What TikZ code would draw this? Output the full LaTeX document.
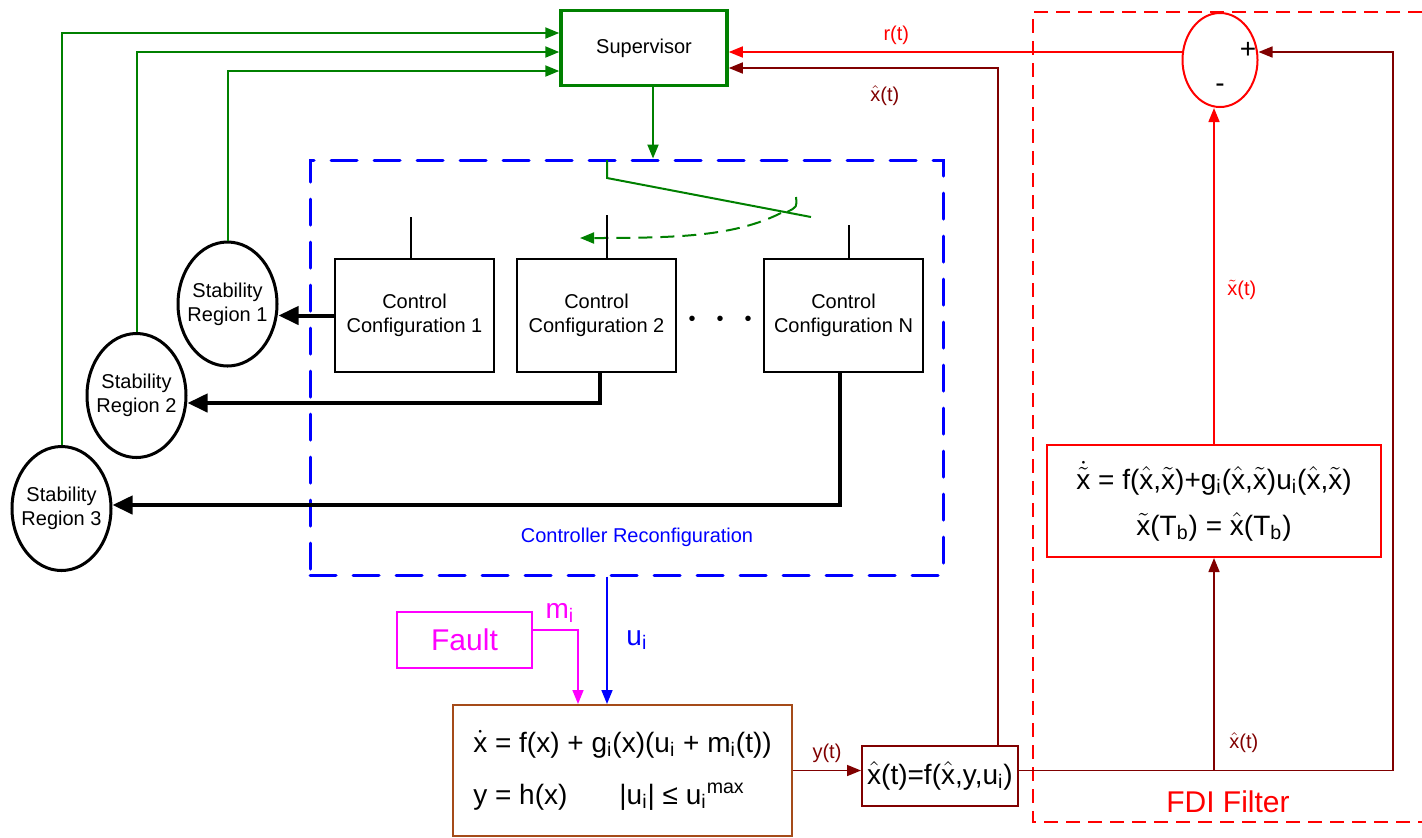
\documentclass[tikz,border=0pt]{standalone}
\usepackage{fontspec}
\setmainfont{Liberation Sans}
\usepackage{xcolor}
\usepackage{tikz}
\usetikzlibrary{arrows.meta,shapes.geometric}
\definecolor{supgreen}{RGB}{0,128,0}
\definecolor{estred}{RGB}{128,0,0}
\definecolor{plantbrown}{RGB}{165,75,25}
\definecolor{faultmag}{RGB}{255,0,255}
\newcommand{\xhat}{\ensuremath{\hat{\mbox{x}}}}
\newcommand{\xtil}{\ensuremath{\tilde{\mbox{x}}}}
\newcommand{\xtildot}{\ensuremath{\dot{\tilde{\mbox{x}}}}}
\newcommand{\xdot}{\ensuremath{\dot{\mbox{x}}}}
\newcommand{\ix}{\textsubscript{i}}

\begin{document}
\begin{tikzpicture}[x=0.5pt, y=-0.5pt, font=\fontsize{10}{12}\selectfont, >={Triangle[length=7pt,width=5.5pt]},
  blk/.style={draw, line width=1pt, minimum width=79.5pt, minimum height=56.5pt, align=center, inner sep=1pt},
  reg/.style={draw, ellipse, line width=1.5pt, minimum width=49.5pt, minimum height=62pt, inner xsep=-3pt, inner ysep=0pt, align=center},
  grn/.style={supgreen, line width=1pt},
  thin/.style={line width=0.8pt},
  thk/.style={line width=2pt, >={Triangle[length=10pt,width=9pt]}},
  eqfont/.style={font=\fontsize{14}{17}\selectfont}]
  \useasboundingbox (0,0) rectangle (1422,837);
  \node[draw=supgreen, line width=1.75pt, minimum width=83pt, minimum height=37.5pt] (sup) at (644,48) {Supervisor};
  \node[blk] (cc1) at (414.5,315.5) {Control\\Configuration 1};
  \node[blk] (cc2) at (596.5,315.5) {Control\\Configuration 2};
  \node[blk] (ccN) at (843.5,315.5) {Control\\Configuration N};
  \node (dots) at (720,321) {•\hspace{10.5pt}•\hspace{10.5pt}•};
  \node[reg] (sr1) at (227.5,304) {Stability\\Region 1};
  \node[reg] (sr2) at (136.5,395.5) {Stability\\Region 2};
  \node[reg] (sr3) at (61.5,508.5) {Stability\\Region 3};
  \node[draw=blue, line width=1.5pt, dash pattern=on 13pt off 8.5pt, line cap=round, minimum width=316.5pt, minimum height=207.5pt] (rc) at (626.5,367.5) {};
  \node[blue] (rclab) at (637,537) {Controller Reconfiguration};
  \node[draw=faultmag, text=faultmag, line width=1pt, minimum width=67.5pt, minimum height=28pt, font=\fontsize{15}{18}\selectfont] (fault) at (464.5,640) {Fault};
  \node[draw=plantbrown, line width=1pt, minimum width=169.5pt, minimum height=65.5pt, align=left, eqfont] (plant) at (622.5,770.5)
    {\xdot\ = f(x) + g\ix{}(x)(u\ix{} + m\ix{}(t))\\[9pt]y = h(x)\hspace{26pt}|u\ix{}| ≤ u\ix\textsuperscript{max}};
  \node[draw=estred, line width=1pt, minimum width=78pt, minimum height=30pt, inner sep=1pt, eqfont] (obs) at (940,776) {\xhat(t)=f(\xhat,y,u\ix)};
  \node[draw=red, line width=1pt, minimum width=167pt, minimum height=56pt, align=center, eqfont] (fdieq) at (1214,501)
    {\xtildot\ = f(\xhat,\xtil)+g\ix(\xhat,\xtil)u\ix(\xhat,\xtil)\\[6pt]\xtil(T\textsubscript{b}) = \xhat(T\textsubscript{b})};
  \node[draw=red, ellipse, line width=1pt, minimum width=37.5pt, minimum height=47pt, inner sep=0pt] (sum) at (1220,60) {};
  \node[eqfont] (plus) at (1248,50) {+};
  \node[eqfont] (minus) at (1220,88) {-};
  \draw[red, line width=1pt, dash pattern=on 7pt off 4pt] (1422,12) -- (1033,12) -- (1033,822) -- (1422,822);
  \node[red, font=\fontsize{15}{18}\selectfont] (fdilab) at (1228,802) {FDI Filter};
  \foreach \r/\s in {sr1/-11.5pt, sr2/-2pt, sr3/7.5pt}
     \draw[grn,->] (\r.north) |- ([yshift=\s]sup.west);
  \draw[grn,->] ([xshift=4.5pt]sup.south) -- ([xshift=4.5pt]sup.south |- rc.north);
  \coordinate (swa) at (607,160);
  \coordinate (swb) at (607,178);
  \coordinate (swc) at (811,217);
  \coordinate (swd) at (781,213);
  \coordinate (swe) at (580,238);
  \draw[grn] (swa) -- (swb) -- (swc);
  \draw[grn] (796,197) .. controls (797,207) .. (787,212);
  \draw[grn, dash pattern=on 7pt off 4pt, ->] (swd) .. controls (735,236) and (680,238) .. (swe);
  \foreach \c/\dx/\h in {cc1/-1.75pt/41, cc2/5.25pt/43, ccN/2.75pt/33}
     \draw[thin] ([xshift=\dx]\c.north) -- ++(0,-\h);
  \draw[thk,->] (cc1.west) -- (cc1.west -| sr1.east);
  \draw[thk,->] ([xshift=1.75pt]cc2.south) |- ([yshift=-3.75pt]sr2.east);
  \draw[thk,->] ([xshift=-1.75pt]ccN.south) |- ([yshift=1.75pt]sr3.east);
  \draw[thin, blue, ->] ([xshift=-9.75pt]rc.south) -- ([xshift=-9.75pt]rc.south |- plant.north)
     node[midway, right, xshift=6pt, eqfont] {u\ix};
  \draw[thin, faultmag, ->] ([yshift=5pt]fault.east) -| ([xshift=-22.25pt]plant.north)
     node[pos=0.3, above, eqfont] {m\ix};
  \draw[thin, estred, ->] (plant.east) -- (plant.east -| obs.west) node[midway, above] {y(t)};
  \coordinate (cr) at (1393,770.5);
  \draw[thin, estred, ->] (obs.east |- cr) -- (cr) |- ([yshift=4pt]sum.east);
  \draw[thin, estred, ->] (fdieq.south |- cr) -- (fdieq.south) node[pos=0.13, right, xshift=4pt] {\xhat(t)};
  \draw[thin, red, ->] (fdieq.north) -- (fdieq.north |- sum.south) node[pos=0.46, right, xshift=3pt] {\xtil(t)};
  \draw[thin, red, ->] ([yshift=4pt]sum.west) -- ([yshift=4pt]sum.west -| sup.east) node[pos=0.63, above] {r(t)};
  \draw[thin, estred, ->] ([xshift=29pt]obs.north) |- ([yshift=-10pt]sup.east) node[pos=0.71, below, yshift=-5pt] {\xhat(t)};
\end{tikzpicture}
\end{document}
